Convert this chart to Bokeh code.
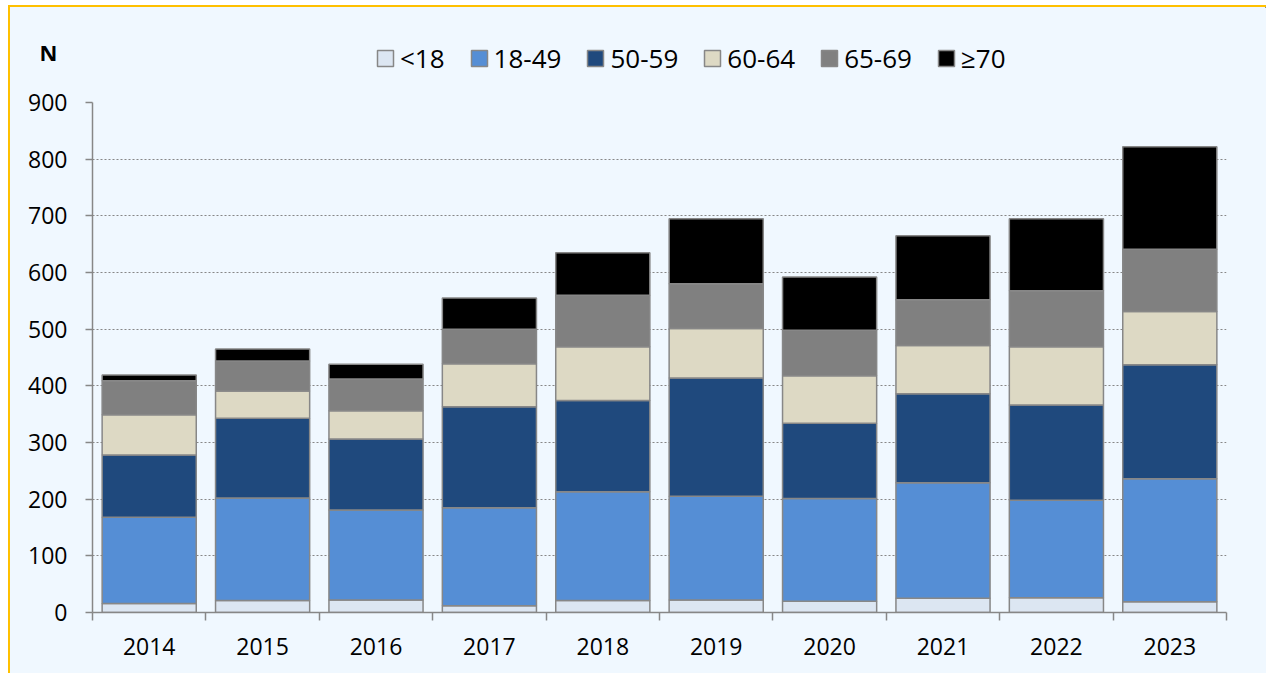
from bokeh.plotting import figure
from bokeh.models import ColumnDataSource, Range1d, FixedTicker, Legend, LegendItem, Label
from bokeh.layouts import column
from bokeh.embed import file_html
from bokeh.resources import INLINE

years = ["2014", "2015", "2016", "2017", "2018", "2019", "2020", "2021", "2022", "2023"]
groups = ["<18", "18-49", "50-59", "60-64", "65-69", "≥70"]
under18 = [16, 21, 22, 12, 21, 22, 20, 25, 26, 19]
age18_49 = [152, 181, 159, 173, 192, 183, 181, 204, 172, 217]
age50_59 = [110, 141, 125, 178, 161, 209, 133, 157, 168, 201]
age60_64 = [71, 48, 50, 76, 95, 87, 84, 85, 103, 94]
age65_69 = [60, 53, 56, 61, 91, 79, 80, 81, 99, 110]
age70plus = [10, 21, 26, 55, 75, 115, 94, 113, 127, 181]
y_ticks = [0, 100, 200, 300, 400, 500, 600, 700, 800, 900]

colors = ["#DCE6F2", "#558ED5", "#1F497D", "#DDD9C4", "#808080", "#000000"]
keys = ["g0", "g1", "g2", "g3", "g4", "g5"]
xs = list(range(1, len(years) + 1))

source = ColumnDataSource(dict(x=xs, g0=under18, g1=age18_49, g2=age50_59,
                               g3=age60_64, g4=age65_69, g5=age70plus))

BG = "#F0F8FF"
GRAY = "#878787"
FONT = "Open Sans"
W = 1256
HEAD_H = 75

# ---- header strip: "N" caption and legend (its bars fall outside its ranges) ----
head = figure(width=W, height=HEAD_H, output_backend="svg", toolbar_location=None,
              x_range=Range1d(-3, -2), y_range=Range1d(-3, -2),
              x_axis_type=None, y_axis_type=None, min_border=0)
head.frame_align = False
head.background_fill_color = BG
head.border_fill_color = BG
head.outline_line_color = None
head.xgrid.grid_line_color = None
head.ygrid.grid_line_color = None

swatches = head.vbar_stack(keys, x="x", width=0.83, color=colors, source=source,
                           line_color=GRAY, line_width=1.5)
legend = Legend(items=[LegendItem(label=g, renderers=[r]) for g, r in zip(groups, swatches)],
                orientation="horizontal", location=(365, 6),
                glyph_width=20, glyph_height=20, label_standoff=5, spacing=24,
                padding=0, margin=0, border_line_color=None, background_fill_alpha=0,
                label_text_font=FONT, label_text_font_size="26px", label_text_color="black")
head.add_layout(legend, "center")
head.add_layout(Label(x=38, y=31, x_units="screen", y_units="screen", text="N",
                      text_align="center", text_baseline="middle",
                      text_font=FONT, text_font_style="bold", text_font_size="22px",
                      text_color="black"))

# ---- main chart ----
p = figure(width=W, height=666 - HEAD_H, output_backend="svg", toolbar_location=None,
           x_range=Range1d(0.5, len(years) + 0.5), y_range=Range1d(0, 900),
           min_border_left=82, min_border_right=40, min_border_top=20, min_border_bottom=61)
p.frame_align = False
p.background_fill_color = BG
p.border_fill_color = BG
p.outline_line_color = None

renderers = p.vbar_stack(keys, x="x", width=0.83, color=colors, source=source,
                         line_color=GRAY, line_width=1.5)

xa = p.xaxis[0]
xa.ticker = FixedTicker(ticks=xs, minor_ticks=[x - 0.5 for x in xs] + [len(xs) + 0.5])
xa.major_label_overrides = {x: y for x, y in zip(xs, years)}
xa.major_tick_line_color = None
xa.major_tick_out = 0
xa.major_tick_in = 0
xa.minor_tick_line_color = GRAY
xa.minor_tick_out = 8
xa.minor_tick_in = 0
xa.minor_tick_line_width = 1.5
xa.axis_line_color = GRAY
xa.axis_line_width = 1.5
xa.major_label_text_font = FONT
xa.major_label_text_font_size = "23px"
xa.major_label_text_color = "black"
xa.major_label_standoff = 17

ya = p.yaxis[0]
ya.ticker = FixedTicker(ticks=y_ticks)
ya.major_tick_line_color = GRAY
ya.major_tick_out = 7
ya.major_tick_in = 0
ya.major_tick_line_width = 1.5
ya.minor_tick_line_color = None
ya.axis_line_color = GRAY
ya.axis_line_width = 1.5
ya.major_label_text_font = FONT
ya.major_label_text_font_size = "23px"
ya.major_label_text_color = "black"
ya.major_label_standoff = 18

p.xgrid.grid_line_color = None
p.ygrid.grid_line_color = GRAY
p.ygrid.grid_line_dash = "2 2"
p.ygrid.grid_line_width = 1

layout = column(head, p, spacing=0)
layout.styles = {"border-top": "2px solid #FFC000", "border-left": "2px solid #FFC000",
                 "margin-left": "8px", "margin-top": "5px", "background-color": BG}

open("out.html", "w").write(file_html(layout, INLINE))
